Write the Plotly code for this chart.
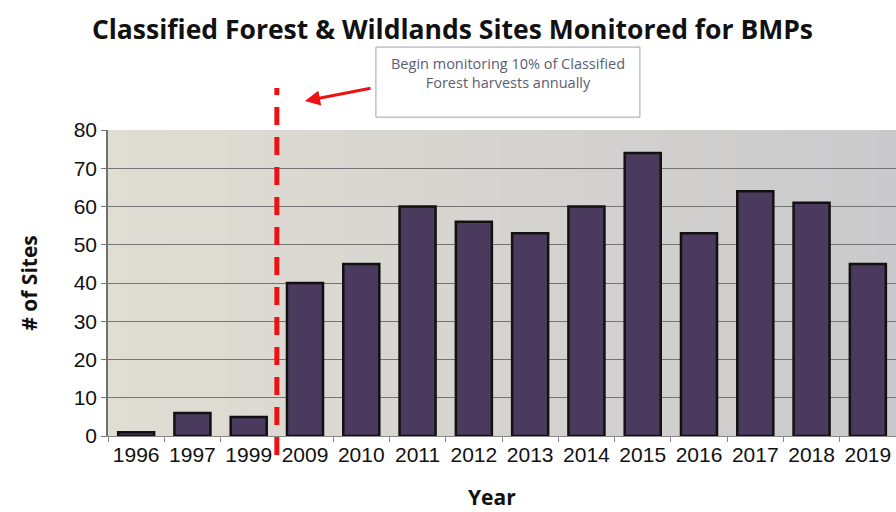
import plotly.graph_objects as go

years = ["1996", "1997", "1999", "2009", "2010", "2011", "2012", "2013",
         "2014", "2015", "2016", "2017", "2018", "2019"]
sites = [1, 6, 5, 40, 45, 60, 56, 53, 60, 74, 53, 64, 61, 45]
y_ticks = [0, 10, 20, 30, 40, 50, 60, 70, 80]

title_text = "Classified Forest & Wildlands Sites Monitored for BMPs"
note_text = "Begin monitoring 10% of Classified<br>Forest harvests annually"

fig = go.Figure()
fig.add_trace(go.Bar(
    x=years, y=sites,
    marker=dict(color="#4a3a5e", line=dict(color="#111111", width=2.5)),
    width=0.64,
))

# gradient background strips
shapes = []
n = 40
c0 = (224, 221, 211)
c1 = (202, 202, 204)
for i in range(n):
    t = i / (n - 1)
    c = tuple(int(round(c0[k] + (c1[k] - c0[k]) * t)) for k in range(3))
    shapes.append(dict(type="rect", xref="x domain", yref="y domain",
                       x0=i / n, x1=(i + 1) / n + 0.002, y0=0, y1=1,
                       fillcolor="rgb(%d,%d,%d)" % c, line=dict(width=0),
                       layer="below"))

# dashed red separator
shapes.append(dict(type="line", xref="x", yref="paper", x0=2.5, x1=2.5,
                   y0=-0.062, y1=1.137,
                   line=dict(color="#ee1111", width=5, dash="18px,12px")))
# note box
shapes.append(dict(type="rect", xref="paper", yref="paper",
                   x0=0.340, x1=0.675, y0=1.042, y1=1.271,
                   fillcolor="white", line=dict(color="#a0a0a8", width=1)))

fig.update_layout(
    width=896, height=512,
    margin=dict(l=108, r=0, t=130, b=76),
    paper_bgcolor="white",
    plot_bgcolor="#d8d6ce",
    showlegend=False,
    shapes=shapes,
    title=dict(text="<b>" + title_text + "</b>", x=0.505, xanchor="center",
               xref="container", y=1 - 30 / 512, yanchor="middle",
               yref="container",
               font=dict(family="Open Sans", size=26.5, color="#111111")),
    xaxis=dict(type="category", tickson="boundaries", ticks="outside",
               ticklen=5, tickcolor="#888888", showgrid=False,
               showline=True, linecolor="#888888",
               tickfont=dict(family="Liberation Sans", size=21, color="#111111")),
    yaxis=dict(range=[0, 80], tickvals=y_ticks, ticks="outside", ticklen=5,
               tickcolor="#777777", showline=True, linecolor="#707070",
               linewidth=1.5,
               gridcolor="#747474", gridwidth=1, zeroline=False,
               tickfont=dict(family="Liberation Sans", size=21, color="#111111"),
               title=dict(text="<b># of Sites</b>", standoff=30,
                          font=dict(family="Open Sans", size=21, color="#111111"))),
    annotations=[
        dict(x=3, xref="x", y=1.095, yref="paper", ax=67, ay=-13,
             showarrow=True, arrowhead=2, arrowsize=1, arrowwidth=3,
             arrowcolor="#ee1111", text=""),
        dict(x=0.508, xref="paper", y=(436 - 73) / 306, yref="paper",
             showarrow=False, text=note_text, align="center",
             xanchor="center", yanchor="middle",
             font=dict(family="Open Sans", size=14.5, color="#5a6070")),
        dict(x=0.487, xref="paper", y=-(497 - 436) / 306, yref="paper",
             showarrow=False, text="<b>Year</b>", xanchor="center",
             yanchor="middle",
             font=dict(family="Open Sans", size=21, color="#111111")),
    ],
)

fig.write_html("out.html", config={"displayModeBar": False},
               post_script="document.body.style.margin='0px';")
